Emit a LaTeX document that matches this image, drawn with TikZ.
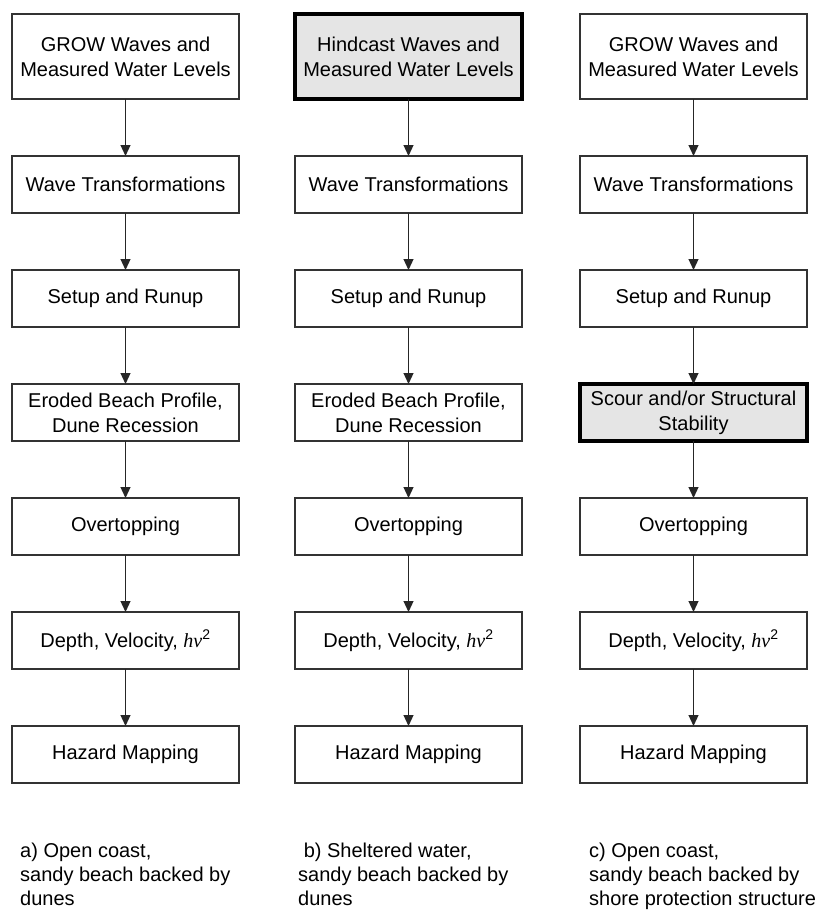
\documentclass[tikz,border=0pt]{standalone}
\usepackage{fontspec}
\setmainfont{Liberation Sans}
\newfontfamily\timesit{Liberation Serif}
\usetikzlibrary{positioning,arrows.meta}
\tikzset{
  stage/.style={draw=black!80, line width=1.3pt, fill=white, minimum width=227pt,
    minimum height=57pt, align=center, inner sep=2pt, outer sep=0pt,
    font=\fontsize{20}{25}\selectfont},
  source/.style={stage, minimum height=85pt},
  keystage/.style={stage, line width=4pt, draw=black, fill=black!10},
  flow/.style={draw=black!85, line width=1.2pt, -{Triangle[length=11pt,width=10pt]}},
  caption/.style={anchor=north west, align=left, inner sep=0pt, font=\fontsize{20}{24}\selectfont}
}
\newcommand{\hvsq}{{\timesit\itshape hv}\textsuperscript{2}}

\begin{document}
\begin{tikzpicture}[node distance=57pt and 57pt]
    \useasboundingbox (0pt,0pt) rectangle (820pt,-910pt);

    % a) open coast, dunes
    \node[source] (a1) at (125.5pt,-56.5pt) {GROW Waves and\\Measured Water Levels};
    \node[stage, below=of a1] (a2) {Wave Transformations};
    \node[stage, below=of a2] (a3) {Setup and Runup};
    \node[stage, below=of a3] (a4) {Eroded Beach Profile,\\Dune Recession};
    \node[stage, below=of a4] (a5) {Overtopping};
    \node[stage, below=of a5] (a6) {Depth, Velocity, \hvsq};
    \node[stage, below=of a6] (a7) {Hazard Mapping};

    % b) sheltered water
    \node[source, keystage, minimum height=85pt] (b1) at (408.5pt,-56.5pt) {Hindcast Waves and\\Measured Water Levels};
    \node[stage, below=of b1] (b2) {Wave Transformations};
    \node[stage, below=of b2] (b3) {Setup and Runup};
    \node[stage, below=of b3] (b4) {Eroded Beach Profile,\\Dune Recession};
    \node[stage, below=of b4] (b5) {Overtopping};
    \node[stage, below=of b5] (b6) {Depth, Velocity, \hvsq};
    \node[stage, below=of b6] (b7) {Hazard Mapping};

    % c) shore protection structure
    \node[source] (c1) at (693.5pt,-56.5pt) {GROW Waves and\\Measured Water Levels};
    \node[stage, below=of c1] (c2) {Wave Transformations};
    \node[stage, below=of c2] (c3) {Setup and Runup};
    \node[keystage, below=of c3] (c4) {Scour and/or Structural\\Stability};
    \node[stage, below=of c4] (c5) {Overtopping};
    \node[stage, below=of c5] (c6) {Depth, Velocity, \hvsq};
    \node[stage, below=of c6] (c7) {Hazard Mapping};

    \foreach \col in {a,b,c}
      \foreach \i/\j in {1/2,2/3,3/4,4/5,5/6,6/7}
        \draw[flow] (\col\i) -- (\col\j);

    \node[caption] (capa) at (20pt,-843pt) {a) Open coast,\\sandy beach backed by\\dunes};
    \node[caption] (capb) at (298pt,-843pt) {\ b) Sheltered water,\\sandy beach backed by\\dunes};
    \node[caption] (capc) at (589pt,-843pt) {c) Open coast,\\sandy beach backed by\\shore protection structure};
\end{tikzpicture}
\end{document}
